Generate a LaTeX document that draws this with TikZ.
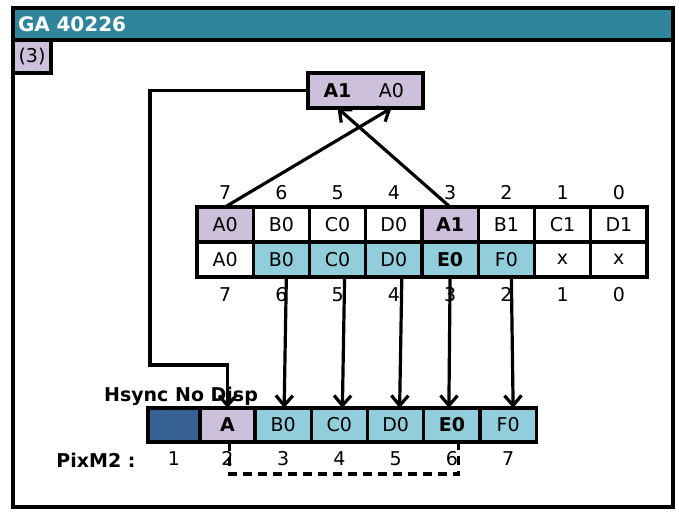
\documentclass[tikz,border=0pt]{standalone}
\usepackage{fontspec}
\setmainfont{DejaVu Sans}
\usetikzlibrary{arrows.meta,positioning}
\definecolor{hdrteal}{RGB}{49,133,155}
\definecolor{lilac}{RGB}{204,192,218}
\definecolor{skyblue}{RGB}{146,205,220}
\definecolor{navyblue}{RGB}{54,96,146}
\newcommand{\cellfont}{\fontsize{19}{22}\selectfont}

\begin{document}
\begin{tikzpicture}[x=1pt, y=-1pt,
  font=\cellfont,
  cell/.style={draw, line width=3.2pt, minimum width=56.25pt, minimum height=35pt,
               inner sep=0pt, outer sep=0pt},
  low/.style={cell, minimum height=34pt},
  bold/.style={font=\cellfont\bfseries},
  bit/.style={inner sep=0pt},
  link/.style={line width=3.2pt},
  >={Straight Barb[length=10pt,width=17pt]}]
  \useasboundingbox (0,0) rectangle (679,511);
  \node[draw, fill=hdrteal, line width=3.5pt, minimum height=32pt, text width=650pt,
        inner sep=5pt, outer sep=0pt, align=left, text=white,
        font=\fontsize{20}{23}\selectfont\bfseries] (title) at (343,24) {GA 40226};
  \draw[line width=4.5pt] (13,8) rectangle (673,507);
  \node[draw, fill=lilac, line width=3.5pt, minimum width=38pt, minimum height=33pt,
        inner sep=0pt, outer sep=0pt] (stage) at (32,56.5) {(3)};

  \node[draw, fill=lilac, line width=3.5pt, minimum width=115pt, minimum height=35pt,
        outer sep=0pt] (reg) at (365.5,90.5) {};
  \node[bold] (r1) at ([xshift=-28pt]reg.center) {A1};
  \node (r0) at ([xshift=26pt]reg.center) {A0};

  \node[cell, fill=lilac] (t7) at (225.1,224.5) {A0};
  \foreach \n/\p/\t in {6/7/B0,5/6/C0,4/5/D0}
    \node[cell, right=0pt of t\p] (t\n) {\t};
  \node[cell, bold, fill=lilac, right=0pt of t4] (t3) {A1};
  \foreach \n/\p/\t in {2/3/B1,1/2/C1,0/1/D1}
    \node[cell, right=0pt of t\p] (t\n) {\t};

  \node[cell, below=0pt of t7] (u7) {A0};
  \foreach \n/\p/\t in {6/7/B0,5/6/C0,4/5/D0}
    \node[cell, fill=skyblue, right=0pt of u\p] (u\n) {\t};
  \node[cell, bold, fill=skyblue, right=0pt of u4] (u3) {E0};
  \node[cell, fill=skyblue, right=0pt of u3] (u2) {F0};
  \node[cell, right=0pt of u2] (u1) {x};
  \node[cell, right=0pt of u1] (u0) {x};

  \foreach \n in {7,...,0} {
    \node[bit, above=7pt of t\n] (hi\n) {\n};
    \node[bit, below=10pt of u\n] (lo\n) {\n};
  }

  \node[low, fill=navyblue, minimum width=52pt] (p1) at (174,425) {};
  \node[low, bold, fill=lilac, minimum width=55pt, right=0pt of p1] (p2) {A};
  \foreach \n/\p/\t in {3/2/B0,4/3/C0,5/4/D0}
    \node[low, fill=skyblue, right=0pt of p\p] (p\n) {\t};
  \node[low, bold, fill=skyblue, right=0pt of p5] (p6) {E0};
  \node[low, fill=skyblue, right=0pt of p6] (p7) {F0};

  \foreach \n in {1,...,7}
    \node[bit, below=9pt of p\n] (n\n) {\n};
  \node[bit, bold] (pixm) at (96,460) {PixM2 :};
  \node[bit, bold] (hsync) at (181,396) {Hsync No Disp};

  \draw[link, ->] (t7.north) -- (r0 |- reg.south);
  \draw[link, ->] (t3.north) -- (r1 |- reg.south);
  \coordinate (turn) at (150,365);
  \draw[link, ->] (reg.west) -| (turn) -| (p2.north);
  \foreach \s/\d/\a/\b in {6/3/5/1,5/4/7/3,4/5/8/4,3/6/0/-3,2/7/5/5}
    \draw[link, ->] ([xshift=\a pt]u\s.south) -- ([xshift=\b pt]p\d.north);
  \draw[link, dash pattern=on 9pt off 6pt] ([xshift=2pt]p2.south) -- ++(0,32)
    -| ([xshift=7pt]p6.south);
\end{tikzpicture}
\end{document}
